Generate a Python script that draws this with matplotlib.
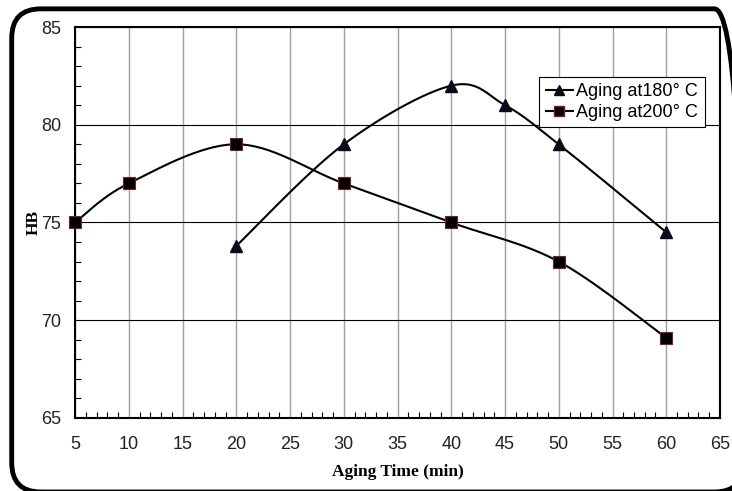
import numpy as np
import matplotlib.pyplot as plt
from matplotlib.patches import FancyBboxPatch
from matplotlib.ticker import MultipleLocator

# hardness vs aging time
t_180 = [20, 30, 40, 45, 50, 60]
hb_180 = [73.8, 79, 82, 81, 79, 74.5]
t_200 = [5, 10, 20, 30, 40, 50, 60]
hb_200 = [75, 77, 79, 77, 75, 73, 69.1]


def smooth(x, y, n=30):
    # spreadsheet-style smoothing: Catmull-Rom segments as cubic Bezier
    x = np.asarray(x, float)
    y = np.asarray(y, float)
    px = np.concatenate([[x[0]], x, [x[-1]]])
    py = np.concatenate([[y[0]], y, [y[-1]]])
    s = np.linspace(0, 1, n)
    xs, ys = [], []
    for i in range(1, len(px) - 2):
        p0 = np.array([px[i], py[i]])
        p3 = np.array([px[i + 1], py[i + 1]])
        p1 = p0 + (p3 - np.array([px[i - 1], py[i - 1]])) / 6
        p2 = p3 - (np.array([px[i + 2], py[i + 2]]) - p0) / 6
        for u in s:
            b = ((1 - u) ** 3) * p0 + 3 * ((1 - u) ** 2) * u * p1 + 3 * (1 - u) * u * u * p2 + u ** 3 * p3
            xs.append(b[0])
            ys.append(b[1])
    return xs, ys


plt.rcParams['font.family'] = ['Liberation Sans', 'DejaVu Sans']

fig = plt.figure(figsize=(7.32, 4.91), dpi=100)
ax = fig.add_axes([0.1025, 0.1487, 0.8811, 0.7963])

ax.grid(True, axis='x', color='#a0a0a0', lw=1)
ax.grid(True, axis='y', color='black', lw=0.8)
ax.set_axisbelow(True)

sx, sy = smooth(t_180, hb_180)
ax.plot(sx, sy, color='black', lw=1.5, zorder=3)
ax.plot(t_180, hb_180, ls='none', marker='^', ms=8, mfc='#0a0a1a', mec='#0a0a1a',
        zorder=4)
sx, sy = smooth(t_200, hb_200)
ax.plot(sx, sy, color='black', lw=1.5, zorder=3)
ax.plot(t_200, hb_200, ls='none', marker='s', ms=8, mfc='black', mec='#7a2020',
        mew=0.8, zorder=4, clip_on=False)

# legend handles
h1, = ax.plot([], [], color='black', lw=1.5, marker='^', ms=7, mfc='#0a0a1a', mec='#0a0a1a')
h2, = ax.plot([], [], color='black', lw=1.5, marker='s', ms=7, mfc='black', mec='#7a2020')
leg = ax.legend([h1, h2], ['Aging at180° C', 'Aging at200° C'], loc='upper right',
                bbox_to_anchor=(0.99, 0.895), fontsize=13, handlelength=1.5,
                handletextpad=0.2, borderpad=0.35, labelspacing=0.2,
                fancybox=False, framealpha=1, edgecolor='black')
leg.get_frame().set_linewidth(0.8)

ax.set_xlim(5, 65)
ax.set_ylim(65, 85)
ax.xaxis.set_major_locator(MultipleLocator(5))
ax.xaxis.set_minor_locator(MultipleLocator(1))
ax.yaxis.set_major_locator(MultipleLocator(5))
ax.yaxis.set_minor_locator(MultipleLocator(1))
ax.tick_params(which='both', direction='in', top=False, right=False, color='black')
ax.tick_params(which='major', length=0, labelsize=13, labelcolor='#222222')
ax.tick_params(which='minor', length=4, width=0.8)
ax.tick_params(axis='x', which='major', pad=13)
ax.tick_params(axis='y', which='major', pad=10)
for sp in ax.spines.values():
    sp.set_color('black')
    sp.set_linewidth(1.5)

ax.set_xlabel('Aging Time (min)', family='Liberation Serif', fontweight='bold',
              fontsize=12.5, labelpad=8)
ax.set_ylabel('HB', family='Liberation Serif', fontweight='bold', fontsize=12.5)
ax.yaxis.set_label_coords(-0.052, 0.5)

# rounded frame around the whole chart
frame = FancyBboxPatch((0.016, -0.002), 1.0, 0.984, boxstyle='round,pad=0,rounding_size=0.04',
                       transform=fig.transFigure, fill=False, ec='black', lw=3.5,
                       mutation_aspect=732 / 491)
fig.patches.append(frame)

fig.savefig('out.png', dpi=100)
